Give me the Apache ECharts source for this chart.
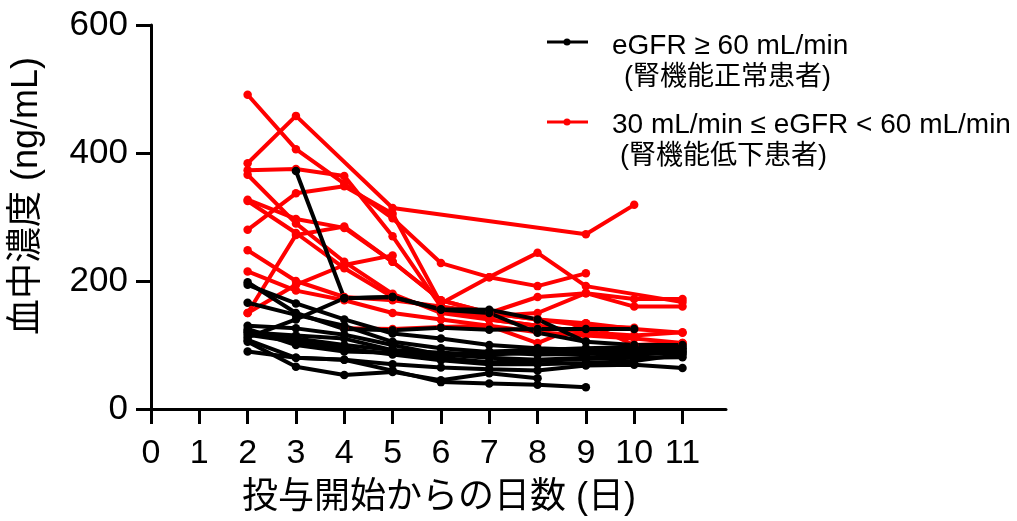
<!DOCTYPE html>
<html>
<head>
<meta charset="utf-8">
<script src="https://cdn.jsdelivr.net/npm/echarts@6/dist/echarts.min.js"></script>
<style>
html,body{margin:0;padding:0;background:#fff;}
#chart{width:1017px;height:521px;}
</style>
</head>
<body>
<div id="chart"></div>
<script>
// Days after start of dosing (x values)
const days = [2, 3, 4, 5, 6, 7, 8, 9, 10, 11];
const xTicks = [0, 1, 2, 3, 4, 5, 6, 7, 8, 9, 10, 11];
const yTicks = [0, 200, 400, 600];

const normalName = 'eGFR ≥ 60 mL/min\n (腎機能正常患者)';
const impairedName = '30 mL/min ≤ eGFR < 60 mL/min\n(腎機能低下患者)';

// eGFR >= 60 (black), values for days 2..11
const normal1  = [null, 372, 173, 175, 156, 155, 140, 105, null, null];
const normal2  = [198, 150, 125, 123, 127, 124, 125, 125, 125, null];
const normal3  = [194, 165, 140, 118, 110, 100, 95, 92, 90, 92];
const normal4  = [166, 147, 130, 105, 95, 89, 85, 86, 88, 90];
const normal5  = [112, 140, 173, 175, 155, 150, 119, 105, 100, 100];
const normal6  = [130, 126, 116, 100, 85, 80, 77, 80, 85, 88];
const normal7  = [122, 110, 100, 92, 80, 73, 75, 78, 80, 81];
const normal8  = [116, 105, 95, 85, 76, 70, 70, 72, 75, 85];
const normal9  = [108, 80, 77, 70, 65, 62, 60, 68, 69, 64];
const normal10 = [105, 66, 53, 58, 45, 56, 48, null, null, null];
const normal11 = [90, 80, 77, 60, 42, 40, 38, 34, null, null];
const normal12 = [125, 100, 90, 88, 84, 90, 92, 95, 97, 95];
const normal13 = [120, 115, 110, 92, 88, 85, 88, 90, 92, 97];

// 30 <= eGFR < 60 (red), values for days 2..11
const impaired1  = [491, 406, 352, 298, 228, 206, 192, 212, null, null];
const impaired2  = [384, 458, null, 314, null, null, null, 273, 319, null];
const impaired3  = [280, 337, 348, 305, 165, 206, 244, 192, null, 167];
const impaired4  = [373, 375, 364, 270, 160, 140, 130, 120, 115, 120];
const impaired5  = [366, 290, 230, 180, 150, 140, 130, 120, null, null];
const impaired6  = [327, 297, 283, 230, 170, 150, 140, 130, 127, null];
const impaired7  = [325, 275, 220, 175, 155, 145, 150, 181, 160, 160];
const impaired8  = [248, 200, 175, 170, 160, 150, 175, 181, 172, 172];
const impaired9  = [215, 185, 170, 150, 140, 130, 120, 115, 110, 103];
const impaired10 = [150, 194, 225, 240, null, null, null, null, null, null];
const impaired11 = [150, 272, 285, 230, 170, 150, 140, 134, 125, 119];
const impaired12 = [null, null, 126, 125, 128, 130, 103, 134, 100, 103];

const normalGroup = [normal1, normal2, normal3, normal4, normal5, normal6, normal7,
  normal8, normal9, normal10, normal11, normal12, normal13];
const impairedGroup = [impaired1, impaired2, impaired3, impaired4, impaired5, impaired6,
  impaired7, impaired8, impaired9, impaired10, impaired11, impaired12];

const FONT = '"Liberation Sans", Arial, "Noto Sans CJK JP", sans-serif';

function toPairs(vals) {
  const out = [];
  vals.forEach((v, i) => { if (v != null) out.push([days[i], v]); });
  return out;
}
function makeSeries(vals, name, color) {
  return {
    type: 'line', name: name, data: toPairs(vals),
    symbol: 'circle', symbolSize: 8.5,
    lineStyle: { color: color, width: 4 },
    itemStyle: { color: color },
    emphasis: { disabled: true },
    animation: false
  };
}
const series = [];
impairedGroup.forEach(v => series.push(makeSeries(v, impairedName, '#ff0000')));
normalGroup.forEach(v => series.push(makeSeries(v, normalName, '#000000')));

const chart = echarts.init(document.getElementById('chart'));
chart.setOption({
  backgroundColor: '#ffffff',
  animation: false,
  grid: { left: 151, right: 291, top: 25, bottom: 112, containLabel: false },
  xAxis: {
    type: 'value', min: 0, max: 11.9,
    axisLine: { show: true, lineStyle: { color: '#000', width: 3 } },
    axisTick: { show: true, length: 15, lineStyle: { color: '#000', width: 3 }, customValues: xTicks },
    axisLabel: { color: '#000', fontSize: 34, fontFamily: FONT, margin: 28, customValues: xTicks },
    splitLine: { show: false }
  },
  yAxis: {
    type: 'value', min: 0, max: 600, interval: 200,
    axisLine: { show: true, lineStyle: { color: '#000', width: 3 } },
    axisTick: { show: true, length: 15, lineStyle: { color: '#000', width: 3 } },
    axisLabel: { color: '#000', fontSize: 35, fontFamily: FONT, margin: 23 },
    splitLine: { show: false }
  },
  series: series,
  graphic: [
    { type: 'text', x: 27, y: 196, rotation: Math.PI / 2,
      style: { text: '血中濃度 (ng/mL)', font: '36px ' + FONT, fill: '#000', align: 'center', verticalAlign: 'middle' } },
    { type: 'text', x: 439, y: 498,
      style: { text: '投与開始からの日数 (日)', font: '36px ' + FONT, fill: '#000', align: 'center', verticalAlign: 'middle' } },
    // legend
    { type: 'line', shape: { x1: 547, y1: 42, x2: 588, y2: 42 }, style: { stroke: '#000', lineWidth: 3 } },
    { type: 'circle', shape: { cx: 567, cy: 42, r: 3.5 }, style: { fill: '#000' } },
    { type: 'text', x: 612, y: 46, style: { text: 'eGFR ≥ 60 mL/min', font: '28px ' + FONT, fill: '#000', align: 'left', verticalAlign: 'middle' } },
    { type: 'text', x: 624, y: 78, style: { text: '(腎機能正常患者)', font: '27px ' + FONT, fill: '#000', align: 'left', verticalAlign: 'middle' } },
    { type: 'line', shape: { x1: 547, y1: 122, x2: 588, y2: 122 }, style: { stroke: '#ff0000', lineWidth: 3 } },
    { type: 'circle', shape: { cx: 567, cy: 122, r: 3.5 }, style: { fill: '#ff0000' } },
    { type: 'text', x: 612, y: 125, style: { text: '30 mL/min ≤ eGFR < 60 mL/min', font: '28px ' + FONT, fill: '#000', align: 'left', verticalAlign: 'middle' } },
    { type: 'text', x: 620, y: 157, style: { text: '(腎機能低下患者)', font: '27px ' + FONT, fill: '#000', align: 'left', verticalAlign: 'middle' } }
  ]
});
</script>
</body>
</html>
